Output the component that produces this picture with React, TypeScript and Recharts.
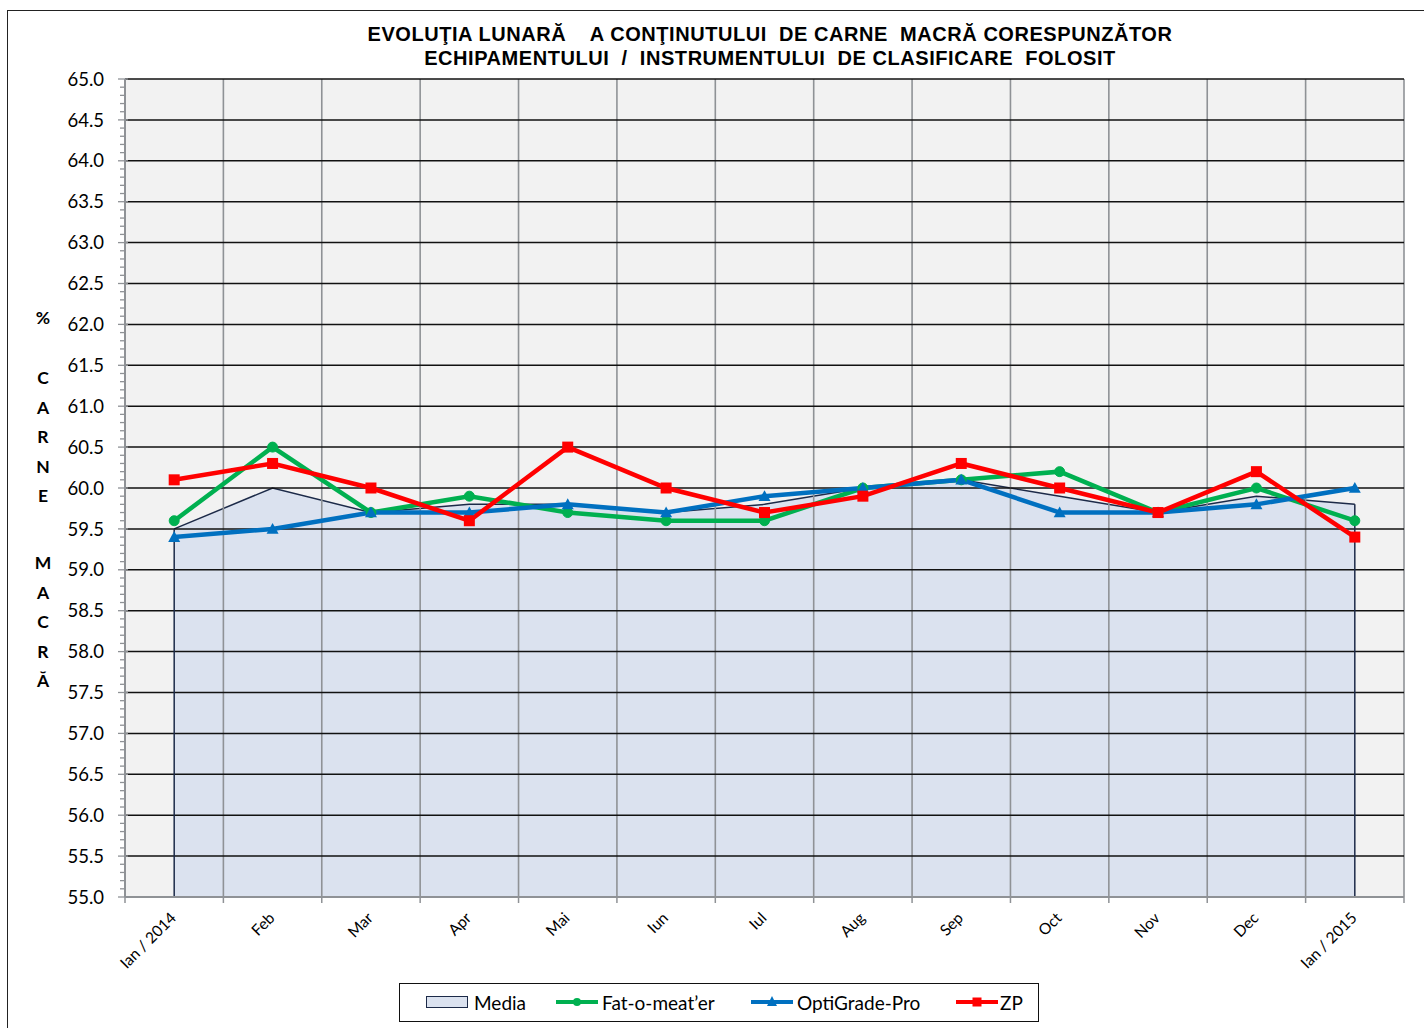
import React from "react";
import {
  ComposedChart,
  Area,
  Line,
  XAxis,
  YAxis,
  ReferenceLine,
  ReferenceArea,
} from "recharts";

const categories = ["Ian / 2014", "Feb", "Mar", "Apr", "Mai", "Iun", "Iul", "Aug", "Sep", "Oct", "Nov", "Dec", "Ian / 2015"];
const media = [59.5, 60.0, 59.7, 59.8, 59.8, 59.7, 59.8, 60.0, 60.1, 59.9, 59.7, 59.9, 59.8];
const fatOMeater = [59.6, 60.5, 59.7, 59.9, 59.7, 59.6, 59.6, 60.0, 60.1, 60.2, 59.7, 60.0, 59.6];
const optiGrade = [59.4, 59.5, 59.7, 59.7, 59.8, 59.7, 59.9, 60.0, 60.1, 59.7, 59.7, 59.8, 60.0];
const zp = [60.1, 60.3, 60.0, 59.6, 60.5, 60.0, 59.7, 59.9, 60.3, 60.0, 59.7, 60.2, 59.4];
const yMajorTicks = [55.0, 55.5, 56.0, 56.5, 57.0, 57.5, 58.0, 58.5, 59.0, 59.5, 60.0, 60.5, 61.0, 61.5, 62.0, 62.5, 63.0, 63.5, 64.0, 64.5, 65.0];

const Y_MIN = yMajorTicks[0];
const Y_MAX = yMajorTicks[yMajorTicks.length - 1];

const data = categories.map((label, i) => ({
  idx: i,
  label,
  media: media[i],
  fat: fatOMeater[i],
  opti: optiGrade[i],
  zp: zp[i],
}));

// minor tick positions every 0.1 (tick marks only)
const yAllTicks: number[] = [];
for (let k = 0; k <= Math.round((Y_MAX - Y_MIN) * 10); k++) {
  yAllTicks.push(Math.round((Y_MIN + k * 0.1) * 10) / 10);
}
// category centres and band boundaries
const xBoundaries = categories.map((_, i) => i - 0.5).concat([categories.length - 0.5]);
const xAllTicks: number[] = [];
categories.forEach((_, i) => {
  xAllTicks.push(i - 0.5);
  xAllTicks.push(i);
});
xAllTicks.push(categories.length - 0.5);

const GREEN = "#00b050";
const BLUE = "#0070c0";
const RED = "#ff0000";
const NAVY = "#1c2a48";
const AREA_FILL = "#dbe2ef";
const GRID_V = "#8f9296";
const AXIS_GRAY = "#8f9296";
const FONT = "Lato, 'Open Sans', sans-serif";

const YTick = (props: any) => {
  const { x, y, payload } = props;
  const v = payload.value;
  const isMajor = Math.abs(v * 2 - Math.round(v * 2)) < 1e-6;
  return (
    <g>
      <line
        x1={isMajor ? x - 7 : x - 5}
        x2={isMajor ? x + 3 : x}
        y1={y}
        y2={y}
        stroke={AXIS_GRAY}
        strokeWidth={1.3}
      />
      {isMajor && (
        <text
          x={x - 21}
          y={y}
          dy="0.36em"
          textAnchor="end"
          fontFamily={FONT}
          fontSize={18.5}
          fill="#000"
        >
          {v.toFixed(1)}
        </text>
      )}
    </g>
  );
};

const XTick = (props: any) => {
  const { x, y, payload } = props;
  const v = payload.value;
  const isCenter = Math.abs(v - Math.round(v)) < 1e-6;
  if (!isCenter) {
    return <line x1={x} x2={x} y1={y} y2={y + 6} stroke={AXIS_GRAY} strokeWidth={1.5} />;
  }
  const ax = x + 3;
  const ay = y + 22;
  return (
    <text
      x={ax}
      y={ay}
      transform={`rotate(-45, ${ax}, ${ay})`}
      textAnchor="end"
      fontFamily={FONT}
      fontSize={15.5}
      fill="#000"
    >
      {categories[Math.round(v)]}
    </text>
  );
};

const CircleDot = (props: any) => {
  const { cx, cy, index } = props;
  if (cx == null || cy == null) return <g key={`c${index}`} />;
  return <circle key={`c${index}`} cx={cx} cy={cy} r={5} fill={GREEN} stroke={GREEN} />;
};
const TriangleDot = (props: any) => {
  const { cx, cy, index } = props;
  if (cx == null || cy == null) return <g key={`t${index}`} />;
  const s = 6;
  return (
    <polygon
      key={`t${index}`}
      points={`${cx},${cy - s} ${cx + s},${cy + s * 0.8} ${cx - s},${cy + s * 0.8}`}
      fill={BLUE}
    />
  );
};
const SquareDot = (props: any) => {
  const { cx, cy, index } = props;
  if (cx == null || cy == null) return <g key={`s${index}`} />;
  const s = 5.5;
  return <rect key={`s${index}`} x={cx - s} y={cy - s} width={2 * s} height={2 * s} fill={RED} />;
};

const LegendLine = ({ color, marker }: { color: string; marker: string }) => (
  <svg width={44} height={14} style={{ display: "block" }}>
    <line x1={1} x2={43} y1={7} y2={7} stroke={color} strokeWidth={4} />
    {marker === "circle" && <circle cx={22} cy={7} r={4} fill={color} />}
    {marker === "triangle" && <polygon points="22,1 27,11 17,11" fill={color} />}
    {marker === "square" && <rect x={17.5} y={2.5} width={9} height={9} fill={color} />}
  </svg>
);

export default function App() {
  return (
    <div style={{ position: "relative", width: 1424, height: 1028, overflow: "hidden", background: "#fff" }}>
      <style>{"html,body{margin:0;padding:0;overflow:hidden;background:#fff;}"}</style>
      {/* outer frame */}
      <div
        style={{
          position: "absolute",
          left: 7,
          top: 10,
          width: 1440,
          height: 1040,
          border: "1.2px solid #222",
          boxSizing: "border-box",
        }}
      />
      {/* title */}
      <div
        style={{
          position: "absolute",
          left: 270,
          top: 22,
          width: 1000,
          textAlign: "center",
          fontFamily: "'Liberation Sans', Arial, sans-serif",
          fontWeight: "bold",
          fontSize: 20,
          letterSpacing: "0.55px",
          lineHeight: "24px",
          whiteSpace: "pre",
          color: "#000",
        }}
      >
        {"EVOLUŢIA LUNARĂ    A CONŢINUTULUI  DE CARNE  MACRĂ CORESPUNZĂTOR\nECHIPAMENTULUI  /  INSTRUMENTULUI  DE CLASIFICARE  FOLOSIT"}
      </div>
      {/* y-axis title, stacked letters */}
      {[
        { text: "%", top: 303 },
        { text: "C\nA\nR\nN\nE", top: 363 },
        { text: "M\nA\nC\nR\nĂ", top: 548 },
      ].map((b, i) => (
        <div
          key={i}
          style={{
            position: "absolute",
            left: 28,
            top: b.top,
            width: 30,
            textAlign: "center",
            fontFamily: FONT,
            fontWeight: "bold",
            fontSize: 17.5,
            lineHeight: "29.6px",
            whiteSpace: "pre",
            color: "#000",
          }}
        >
          {b.text}
        </div>
      ))}

      <div style={{ position: "absolute", left: 0, top: 0 }}>
        <ComposedChart
          width={1424}
          height={1028}
          data={data}
          margin={{ top: 79, right: 20, left: 60, bottom: 51 }}
        >
          <XAxis
            type="number"
            dataKey="idx"
            domain={[-0.5, categories.length - 0.5]}
            ticks={xAllTicks}
            interval={0}
            allowDataOverflow
            tickLine={false}
            tickSize={0}
            tickMargin={0}
            height={80}
            axisLine={{ stroke: AXIS_GRAY, strokeWidth: 2 }}
            tick={<XTick />}
          />
          <YAxis
            type="number"
            domain={[Y_MIN, Y_MAX]}
            ticks={yAllTicks}
            interval={0}
            allowDataOverflow
            tickLine={false}
            tickSize={0}
            tickMargin={0}
            width={65}
            axisLine={{ stroke: AXIS_GRAY, strokeWidth: 2 }}
            tick={<YTick />}
          />
          <ReferenceArea
            x1={-0.5}
            x2={categories.length - 0.5}
            y1={Y_MIN}
            y2={Y_MAX}
            fill="#f2f2f2"
            fillOpacity={1}
            stroke="none"
            zIndex={-100}
          />
          <Area
            type="linear"
            dataKey="media"
            baseValue={Y_MIN}
            fill={AREA_FILL}
            fillOpacity={1}
            stroke={NAVY}
            strokeWidth={1.5}
            dot={false}
            activeDot={false}
            isAnimationActive={false}
          />
          {xBoundaries.map((b) => (
            <ReferenceLine key={`v${b}`} x={b} stroke={GRID_V} strokeWidth={1.6} zIndex={150} />
          ))}
          {yMajorTicks.slice(1).map((t) => (
            <ReferenceLine key={`h${t}`} y={t} stroke="#111" strokeWidth={1.5} zIndex={150} />
          ))}
          <ReferenceLine
            segment={[{ x: 0, y: Y_MIN }, { x: 0, y: media[0] }]}
            stroke={NAVY}
            strokeWidth={1.5}
            zIndex={160}
          />
          <ReferenceLine
            segment={[{ x: categories.length - 1, y: Y_MIN }, { x: categories.length - 1, y: media[media.length - 1] }]}
            stroke={NAVY}
            strokeWidth={1.5}
            zIndex={160}
          />
          <ReferenceLine
            segment={[{ x: 0, y: Y_MIN }, { x: categories.length - 1, y: Y_MIN }]}
            stroke={NAVY}
            strokeWidth={2}
            zIndex={160}
          />
          <Line
            type="linear"
            dataKey="fat"
            stroke={GREEN}
            strokeWidth={4.5}
            dot={<CircleDot />}
            activeDot={false}
            isAnimationActive={false}
          />
          <Line
            type="linear"
            dataKey="opti"
            stroke={BLUE}
            strokeWidth={4.5}
            dot={<TriangleDot />}
            activeDot={false}
            isAnimationActive={false}
          />
          <Line
            type="linear"
            dataKey="zp"
            stroke={RED}
            strokeWidth={4.5}
            dot={<SquareDot />}
            activeDot={false}
            isAnimationActive={false}
          />
        </ComposedChart>
      </div>

      {/* legend */}
      <div
        style={{
          position: "absolute",
          left: 399,
          top: 983,
          width: 640,
          height: 39,
          border: "1.5px solid #111",
          boxSizing: "border-box",
          background: "#fff",
          fontFamily: FONT,
          fontSize: 19,
          color: "#000",
        }}
      >
        <div style={{ position: "absolute", left: 26, top: 12, width: 42, height: 12, background: AREA_FILL, border: `1.5px solid ${NAVY}`, boxSizing: "border-box" }} />
        <div style={{ position: "absolute", left: 74, top: 7, lineHeight: "24px" }}>Media</div>
        <div style={{ position: "absolute", left: 155, top: 11 }}>
          <LegendLine color={GREEN} marker="circle" />
        </div>
        <div style={{ position: "absolute", left: 202, top: 7, lineHeight: "24px" }}>Fat-o-meat’er</div>
        <div style={{ position: "absolute", left: 350, top: 11 }}>
          <LegendLine color={BLUE} marker="triangle" />
        </div>
        <div style={{ position: "absolute", left: 397, top: 7, lineHeight: "24px" }}>OptiGrade-Pro</div>
        <div style={{ position: "absolute", left: 555, top: 11 }}>
          <LegendLine color={RED} marker="square" />
        </div>
        <div style={{ position: "absolute", left: 600, top: 7, lineHeight: "24px" }}>ZP</div>
      </div>
    </div>
  );
}
